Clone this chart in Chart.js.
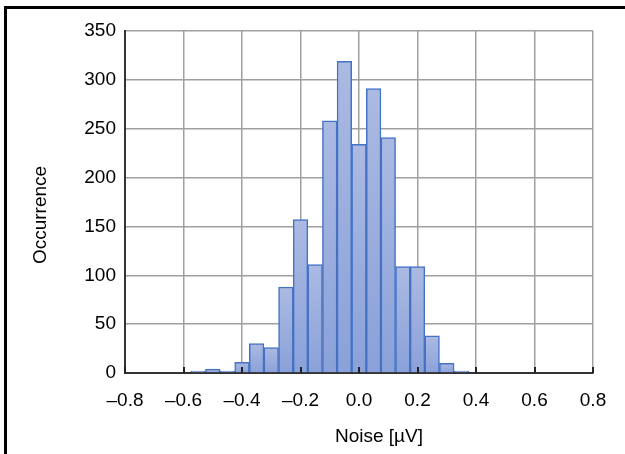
<!DOCTYPE html>
<html>
<head>
<meta charset="utf-8">
<script src="https://cdn.jsdelivr.net/npm/chart.js@4"></script>
<style>
  body { margin: 0; background: #fff; }
  #wrap { position: relative; width: 625px; height: 454px; overflow: hidden; }
  #frame { position: absolute; left: 4px; top: 6px; width: 700px; height: 500px;
           border-left: 3px solid #000; border-top: 3px solid #000; }
  #grafico { position: absolute; left: 0; top: 0; }
</style>
</head>
<body>
<div id="wrap">
  <div id="frame"></div>
  <canvas id="grafico" width="625" height="454"></canvas>
</div>
<script>
// bin centres (µV) and counts
var binCenters = [-0.55, -0.50, -0.45, -0.40, -0.35, -0.30, -0.25, -0.20, -0.15, -0.10,
                  -0.05, 0.00, 0.05, 0.10, 0.15, 0.20, 0.25, 0.30, 0.35];
var counts = [2, 4, 2, 11, 30, 26, 88, 157, 111, 258,
              319, 234, 291, 241, 109, 109, 38, 10, 2];
var xTicks = [-0.8, -0.6, -0.4, -0.2, 0.0, 0.2, 0.4, 0.6, 0.8];
var yTicks = [0, 50, 100, 150, 200, 250, 300, 350];

var fonte = 'Liberation Sans, Arial, sans-serif';
var tamanho = 19;

function formatX(v) {
    var s = Math.abs(v).toFixed(1);
    return v < -1e-9 ? '\u2013' + s : s;
}

// inner tick marks on the x axis and the two axis titles
var extras = {
    id: 'extras',
    afterDatasetsDraw: function (chart) {
        var ctx = chart.ctx;
        var x = chart.scales.x;
        var area = chart.chartArea;
        ctx.save();
        ctx.strokeStyle = '#222';
        ctx.lineWidth = 2;
        xTicks.forEach(function (t) {
            var px = Math.round(x.getPixelForValue(t));
            ctx.beginPath();
            ctx.moveTo(px, area.bottom);
            ctx.lineTo(px, area.bottom - 6);
            ctx.stroke();
        });
        ctx.restore();
    },
    afterDraw: function (chart) {
        var ctx = chart.ctx;
        ctx.save();
        ctx.fillStyle = '#000';
        ctx.font = tamanho + 'px ' + fonte;
        ctx.textAlign = 'center';
        ctx.textBaseline = 'middle';
        ctx.fillText('Noise [\u00b5V]', 379, 437);
        ctx.translate(41, 215);
        ctx.rotate(-Math.PI / 2);
        ctx.fillText('Occurrence', 0, 0);
        ctx.restore();
    }
};

function barFill(c) {
    var chart = c.chart;
    if (!chart.chartArea || !c.parsed) return '#9db0de';
    var y = chart.scales.y;
    var top = y.getPixelForValue(c.parsed.y);
    var base = y.getPixelForValue(0);
    if (!isFinite(top) || base - top < 1) return '#abbae2';
    var g = chart.ctx.createLinearGradient(0, top, 0, base);
    g.addColorStop(0, '#abbae2');
    g.addColorStop(1, '#8aa1d9');
    return g;
}

var pontos = binCenters.map(function (c, i) { return { x: c, y: counts[i] }; });

new Chart(document.getElementById('grafico').getContext('2d'), {
    type: 'bar',
    data: {
        datasets: [{
            label: 'Occurrence',
            data: pontos,
            backgroundColor: barFill,
            borderColor: '#4472c4',
            borderWidth: 1.5,
            barPercentage: 1.0,
            categoryPercentage: 1.0
        }]
    },
    options: {
        responsive: false,
        animation: false,
        layout: { padding: { left: 0, top: 31, right: 32, bottom: 0 } },
        plugins: {
            legend: { display: false },
            tooltip: { enabled: false }
        },
        scales: {
            x: {
                type: 'linear',
                min: -0.8,
                max: 0.8,
                offset: false,
                afterBuildTicks: function (s) { s.ticks = xTicks.map(function (v) { return { value: v }; }); },
                afterFit: function (s) { s.height = 81; },
                ticks: {
                    color: '#000',
                    font: { family: fonte, size: tamanho },
                    padding: 16,
                    maxRotation: 0,
                    autoSkip: false,
                    callback: function (v) { return formatX(v); }
                },
                grid: { color: '#a0a0a0', lineWidth: 1.5, drawTicks: false, offset: false },
                border: { color: '#333', width: 2 }
            },
            y: {
                min: 0,
                max: 350,
                afterBuildTicks: function (s) { s.ticks = yTicks.map(function (v) { return { value: v }; }); },
                afterFit: function (s) { s.width = 125; },
                ticks: {
                    color: '#000',
                    font: { family: fonte, size: tamanho },
                    padding: 9
                },
                grid: { color: '#a0a0a0', lineWidth: 1.5, drawTicks: false },
                border: { color: '#333', width: 2 }
            }
        }
    },
    plugins: [extras]
});
</script>
</body>
</html>
